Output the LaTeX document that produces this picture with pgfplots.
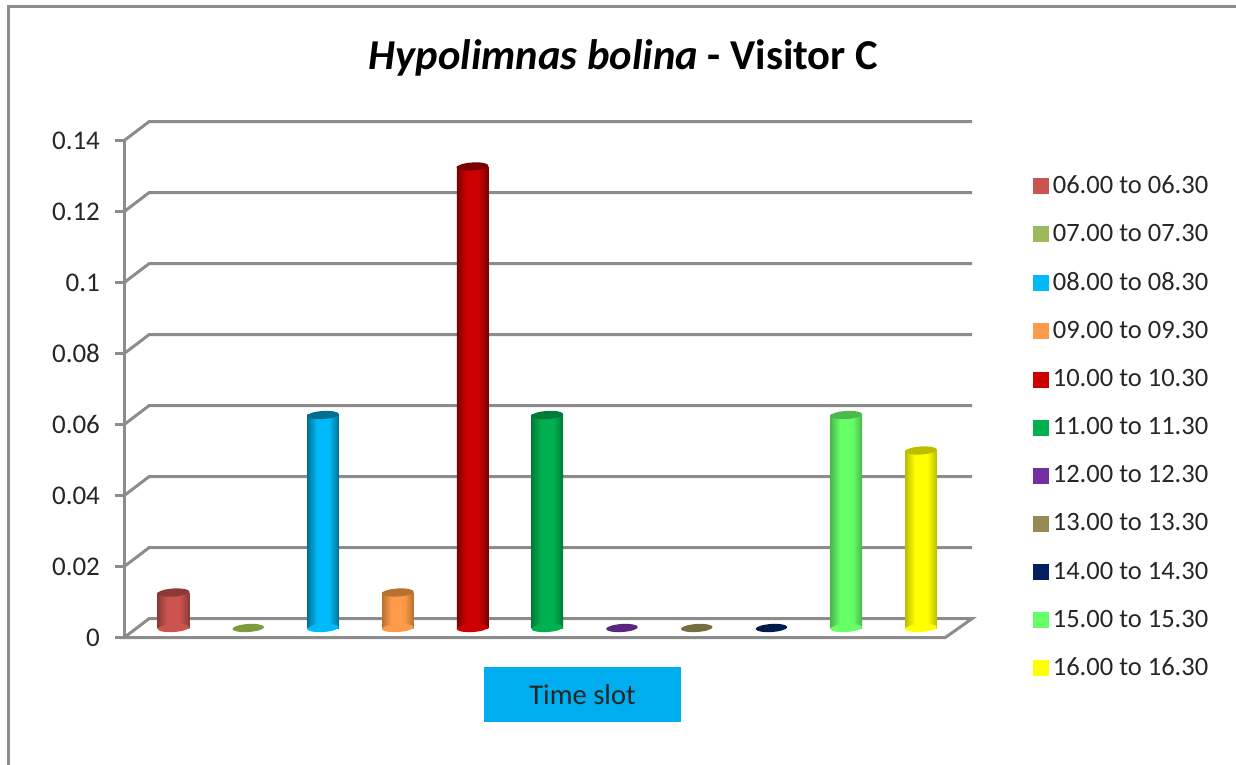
\documentclass[border=0pt]{standalone}
\usepackage{fontspec}
\setmainfont{Carlito}
\usepackage{pgfplots}
\pgfplotsset{compat=1.18}

% one reference pixel is 0.5pt here
\definecolor{frame}{HTML}{8C8C8C}
\definecolor{ink}{HTML}{262626}

\pgfdeclareplotmark{cylcap}{%
  \pgfpathellipse{\pgfpointorigin}{\pgfpoint{7.9pt}{0.5pt}}{\pgfpoint{-0.15pt}{2.0pt}}%
  \pgfusepathqfill}

% name, main colour, dark colour
\newcommand{\cylcolor}[3]{%
  \definecolor{m#1}{HTML}{#2}\definecolor{d#1}{HTML}{#3}%
  \pgfdeclarehorizontalshading{cyl#1}{100bp}{color(0bp)=(d#1); color(25bp)=(d#1);
    color(40bp)=(m#1); color(60bp)=(m#1); color(75bp)=(d#1); color(100bp)=(d#1)}}
\cylcolor{a}{CC5450}{8C3A38}
\cylcolor{b}{9BBB59}{7E9A3C}
\cylcolor{c}{00B9FA}{00708F}
\cylcolor{d}{FF9A4A}{B8702F}
\cylcolor{e}{CC0000}{7A0000}
\cylcolor{f}{00B050}{007A38}
\cylcolor{g}{7030A0}{5A2680}
\cylcolor{h}{948A54}{766E42}
\cylcolor{i}{002060}{001A4D}
\cylcolor{j}{66FF66}{4CB84C}
\cylcolor{k}{FFFF00}{BDBD00}

% name, category, value: a cylinder
\newcommand{\cyl}[3]{%
  \addplot[only marks, mark=cylcap, color=m#1, forget plot] coordinates {(#2,0)};
  \addplot[ybar, bar width=15.75pt, bar shift=0pt, draw=none, shade, shading=cyl#1, forget plot] coordinates {(#2,#3)};
  \addplot[only marks, mark=cylcap, color=d#1, forget plot] coordinates {(#2,#3)};
}
% name, category: nothing but the flat disc of a zero value
\newcommand{\disc}[2]{%
  \addplot[only marks, mark=cylcap, color=d#1, forget plot] coordinates {(#2,0)};
}

\begin{document}
\begin{tikzpicture}
\path[use as bounding box] (0,0) rectangle (618pt,382.5pt);

% value axis, on the front plane of the 3D box
\begin{axis}[
    at={(62pt,63.65pt)}, anchor=south west,
    scale only axis, width=410.5pt, height=248.5pt,
    xmin=0, xmax=1, ymin=0, ymax=0.14,
    axis x line=none,
    axis y line=left,
    axis line style={frame, line width=1.5pt, -},
    ytick={0,0.02,0.04,0.06,0.08,0.1,0.12,0.14},
    tick style={frame, line width=1.5pt},
    ytick align=outside, major tick length=4.5pt,
    y tick label style={font=\fontsize{13.5}{16}\selectfont, text=ink, xshift=-4pt},
    /pgf/number format/fixed,
    /pgf/number format/assume math mode=true,
]
\end{axis}

\begin{scope}[x=0.5pt, y=-0.5pt, yshift=382.5pt]
  % chart border
  \draw[frame, line width=1.5pt] (8,765) -- (8,7) -- (1236,7);
  % gridlines on the back wall and the floor
  \draw[frame, line width=1.5pt] (124,637.7) -- (945,637.7) -- (972,618.7) -- (149,618.7) -- cycle;
  \foreach \y in {140.7,211.7,282.7,353.7,424.7,495.7,566.7}
    \draw[frame, line width=1.5pt] (124,\y) -- (149,\y-19) -- (972,\y-19);
  % title and axis caption
  \node[text=black, font=\fontsize{21.3}{24}\selectfont\bfseries] at (623.5,58) {\textit{Hypolimnas bolina} - Visitor C};
  \node[fill=cyan!100!black, text=ink, minimum width=98.5pt, minimum height=27.5pt, inner sep=0pt,
        font=\fontsize{14.3}{16}\selectfont] at (582.5,694.5) {Time slot};
\end{scope}

% the bars; the x categories are 0..10, 74.75 px apart
\begin{axis}[
    at={(0pt,0pt)}, anchor=south west,
    scale only axis, width=618pt, height=382.5pt,
    xmin=-2.321, xmax=14.214, ymin=-0.03859, ymax=0.17690,
    hide axis,
    legend style={at={(0.8353,0.7764)}, anchor=north west, draw=none, fill=none, inner sep=0pt,
        font=\fontsize{13.25}{15}\selectfont, text=ink, row sep=9.95pt,
        /tikz/every even column/.append style={column sep=6.5pt}},
    legend cell align=left,
    legend image code/.code={\path[#1] (0pt,-4pt) rectangle (8pt,4pt);},
]
\cyl{a}{0}{0.01}
\disc{b}{1}
\cyl{c}{2}{0.06}
\cyl{d}{3}{0.01}
\cyl{e}{4}{0.13}
\cyl{f}{5}{0.06}
\disc{g}{6}
\disc{h}{7}
\disc{i}{8}
\cyl{j}{9}{0.06}
\cyl{k}{10}{0.05}

\addlegendimage{fill=ma, draw=none}\addlegendentry{06.00 to 06.30}
\addlegendimage{fill=mb, draw=none}\addlegendentry{07.00 to 07.30}
\addlegendimage{fill=mc, draw=none}\addlegendentry{08.00 to 08.30}
\addlegendimage{fill=md, draw=none}\addlegendentry{09.00 to 09.30}
\addlegendimage{fill=me, draw=none}\addlegendentry{10.00 to 10.30}
\addlegendimage{fill=mf, draw=none}\addlegendentry{11.00 to 11.30}
\addlegendimage{fill=mg, draw=none}\addlegendentry{12.00 to 12.30}
\addlegendimage{fill=mh, draw=none}\addlegendentry{13.00 to 13.30}
\addlegendimage{fill=mi, draw=none}\addlegendentry{14.00 to 14.30}
\addlegendimage{fill=mj, draw=none}\addlegendentry{15.00 to 15.30}
\addlegendimage{fill=mk, draw=none}\addlegendentry{16.00 to 16.30}
\end{axis}
\end{tikzpicture}
\end{document}
